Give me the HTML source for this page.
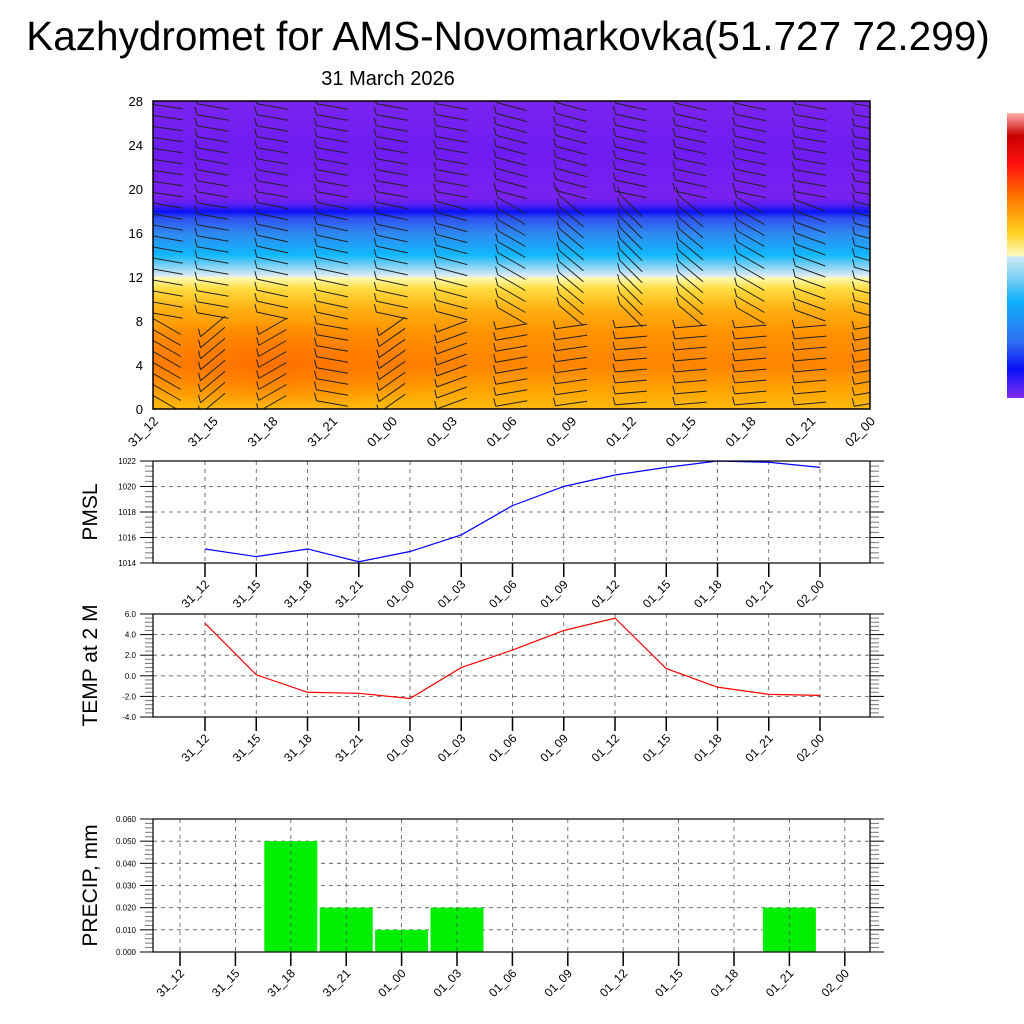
<!DOCTYPE html>
<html><head><meta charset="utf-8"><style>
html,body{margin:0;padding:0;background:#fff;}
svg{display:block;font-family:"Liberation Sans",sans-serif;}
</style></head><body>
<svg id="root" width="1024" height="1024" viewBox="0 0 1024 1024">
<defs>
<linearGradient id="xsec" x1="0" y1="1" x2="0" y2="0">
<stop offset="0" stop-color="#ffba10"/>
<stop offset="0.06" stop-color="#ffa400"/>
<stop offset="0.14" stop-color="#ff8400"/>
<stop offset="0.25" stop-color="#ff9200"/>
<stop offset="0.32" stop-color="#ffae10"/>
<stop offset="0.39" stop-color="#ffdc40"/>
<stop offset="0.425" stop-color="#fffab0"/>
<stop offset="0.432" stop-color="#dcecf4"/>
<stop offset="0.46" stop-color="#8cd4f4"/>
<stop offset="0.5" stop-color="#10b8fc"/>
<stop offset="0.57" stop-color="#3088f0"/>
<stop offset="0.62" stop-color="#3050f0"/>
<stop offset="0.64" stop-color="#0a10f8"/>
<stop offset="0.665" stop-color="#5a20f0"/>
<stop offset="0.685" stop-color="#7a20f0"/>
<stop offset="0.84" stop-color="#6e1cf2"/>
<stop offset="1" stop-color="#7a24f0"/>
</linearGradient>
<radialGradient id="warm" cx="0.3" cy="0.5" r="0.5">
<stop offset="0" stop-color="#ff6e00" stop-opacity="0.85"/>
<stop offset="1" stop-color="#ff6e00" stop-opacity="0"/>
</radialGradient>
<linearGradient id="cbar" x1="0" y1="0" x2="0" y2="1">
<stop offset="0" stop-color="#ffb0b0"/>
<stop offset="0.08" stop-color="#c80000"/>
<stop offset="0.18" stop-color="#ff1010"/>
<stop offset="0.3" stop-color="#ff7a00"/>
<stop offset="0.42" stop-color="#ffd020"/>
<stop offset="0.5" stop-color="#fffcc0"/>
<stop offset="0.505" stop-color="#d0e8f4"/>
<stop offset="0.6" stop-color="#60c8f4"/>
<stop offset="0.66" stop-color="#10b0fc"/>
<stop offset="0.8" stop-color="#3070f0"/>
<stop offset="0.9" stop-color="#0a10f8"/>
<stop offset="1" stop-color="#8030f0"/>
</linearGradient>
<clipPath id="xsclip"><rect x="153" y="101" width="717" height="308"/></clipPath>
</defs>
<text x="508" y="50" font-size="40.5" text-anchor="middle">Kazhydromet for AMS-Novomarkovka(51.727 72.299)</text>
<text x="388" y="85" font-size="20" text-anchor="middle">31 March 2026</text>
<rect x="1007" y="113" width="17" height="285" fill="url(#cbar)"/>
<g id="xs">
<rect x="153" y="101" width="717" height="308" fill="url(#xsec)"/>
<rect x="153" y="320" width="400" height="89" fill="url(#warm)"/>
<g id="barbs" clip-path="url(#xsclip)"></g>
<rect x="153" y="101" width="717" height="308" fill="none" stroke="#000" stroke-width="1.5"/>
</g>
<g id="pm"></g><g id="tp"></g><g id="pr"></g>
</svg>
<script>
const times=["31_12","31_15","31_18","31_21","01_00","01_03","01_06","01_09","01_12","01_15","01_18","01_21","02_00"];
const pmsl=[1015.1,1014.5,1015.1,1014.1,1014.9,1016.2,1018.5,1020.0,1020.9,1021.5,1022.0,1021.9,1021.5];
const temp=[5.1,0.1,-1.6,-1.7,-2.2,0.8,2.5,4.4,5.6,0.7,-1.1,-1.8,-1.9];
const precip=[0,0,0.05,0.02,0.01,0.02,0,0,0,0,0,0.02,0];
const xsTicks=[0,4,8,12,16,20,24,28];
const pmTicks=[1014,1016,1018,1020,1022];
const tpTicks=[-4,-2,0,2,4,6];
const prTicks=[0,0.01,0.02,0.03,0.04,0.05,0.06];
const windLow=[30,-40,-30,10,-35,-20,-10,-8,-5,-5,-5,-5,-10];
const windMid=[10,10,12,12,12,15,30,40,45,40,30,20,15];
const windHigh=[8,10,10,10,10,10,15,15,12,12,12,10,10];
const NS="http://www.w3.org/2000/svg";
function mk(p,t,a){const e=document.createElementNS(NS,t);for(const k in a)e.setAttribute(k,a[k]);p.appendChild(e);return e;}
function txt(p,x,y,s,size,anchor,rot){const e=mk(p,'text',{x:x,y:y,'font-size':size,'text-anchor':anchor||'middle'});if(rot)e.setAttribute('transform','rotate('+rot+' '+x+' '+y+')');e.textContent=s;return e;}
const xsX=i=>153+i*717/12, xsY=v=>409-v*11;
const xs=document.getElementById('xs');
xsTicks.forEach(v=>{const t=txt(xs,143,xsY(v)+5,String(v),13,'end');

});
times.forEach((s,i)=>{const x=xsX(i);const t=txt(xs,x+6,422,s,13,'end',-45);

});
const bg=document.getElementById('barbs');
times.forEach((s,i)=>{for(let k=0;k<28;k++){const a=(k<8?windLow[i]:(k<19?windMid[i]:windHigh[i]))*Math.PI/180;
const cx=xsX(i)+(i==0?14:0),cy=xsY(k+0.5);const L=16;
const x1=cx-L*Math.cos(a),y1=cy-L*Math.sin(a),x2=cx+L*Math.cos(a),y2=cy+L*Math.sin(a);
const l=mk(bg,'line',{x1:x1,y1:y1,x2:x2,y2:y2,stroke:'#222','stroke-width':1});


const b=mk(bg,'line',{x1:x1,y1:y1,x2:x1-2,y2:y1-8,stroke:'#222','stroke-width':1});

}});
function panel(id,top,bot,ticks,fmt,vals,color,title,xf,bars){
const g=document.getElementById(id);


const lo=ticks[0],hi=ticks[ticks.length-1];const y=v=>bot-(v-lo)/(hi-lo)*(bot-top);
const nm=(ticks.length-1)*5;
for(let m=0;m<=nm;m++){const yy=top+m*(bot-top)/nm;const maj=m%5==0;
mk(g,'line',{x1:maj?140:145,y1:yy,x2:153,y2:yy,stroke:maj?'#000':'#777','stroke-width':1});
mk(g,'line',{x1:870,y1:yy,x2:maj?884:879,y2:yy,stroke:maj?'#000':'#777','stroke-width':1});}
ticks.forEach(v=>{if(v!=lo&&v!=hi){const gl=mk(g,'line',{x1:153,y1:y(v),x2:870,y2:y(v),stroke:'#555','stroke-dasharray':'4,4','stroke-width':0.8});

}
const t=txt(g,136,y(v)+3,fmt(v),8,'end');

});
if(bars){vals.forEach((v,i)=>{if(v>0){const r=mk(g,'rect',{x:xf(i)-26.5,y:y(v),width:53,height:bot-y(v),fill:'#00ee00'});

}});}
times.forEach((s,i)=>{const x=xf(i);
mk(g,'line',{x1:x,y1:top,x2:x,y2:bot,stroke:'#555','stroke-dasharray':'4,4','stroke-width':0.8});
mk(g,'line',{x1:x,y1:bot,x2:x,y2:bot+14,stroke:'#000','stroke-width':1.5});
const t=txt(g,x+5,bot+22,s,12,'end',-45);

});
if(!bars){const p=mk(g,'polyline',{points:vals.map((v,i)=>xf(i)+','+y(v)).join(' '),fill:'none',stroke:color,'stroke-width':1.2});

}
const f=mk(g,'rect',{x:153,y:top,width:717,height:bot-top,fill:'none',stroke:'#000','stroke-width':1.2});


const tt=txt(g,97,(top+bot)/2,title,21,'middle',-90);

}
const lx=i=>205+i*51.25, px=i=>180+i*55.4;
panel('pm',461,563,pmTicks,v=>String(v),pmsl,'#0000ff','PMSL',lx,false);
panel('tp',614,717,tpTicks,v=>v.toFixed(1),temp,'#ff0000','TEMP at 2 M',lx,false);
panel('pr',819,952,prTicks,v=>v.toFixed(3),precip,'',"PRECIP, mm",px,true);
</script>
</body></html>
